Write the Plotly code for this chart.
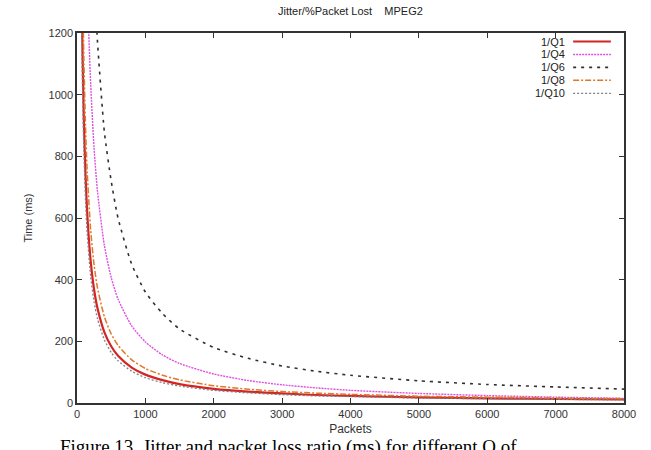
import plotly.graph_objects as go

# ---- data ----
q1_x = [70, 80, 100, 125, 150, 200, 250, 300, 400, 500, 600, 800, 1000, 1250, 1500, 2000, 2500, 3000, 3500, 4000, 5000, 6000, 7000, 8000]
q1_y = [1314, 1150, 920, 736, 613, 460, 368, 307, 230, 184, 153, 115, 92, 74, 61, 46, 37, 31, 26, 23, 18, 15, 13, 12]

q4_x = [165, 180, 200, 250, 300, 400, 500, 600, 800, 1000, 1250, 1500, 2000, 2500, 3000, 3500, 4000, 5000, 6000, 7000, 8000]
q4_y = [1255, 1150, 1034, 825, 686, 511, 407, 337, 250, 198, 156, 128, 94, 73, 59, 49, 41, 31, 24, 19, 15]

q6_x = [285, 300, 400, 500, 600, 800, 1000, 1250, 1500, 2000, 2500, 3000, 3500, 4000, 5000, 6000, 7000, 8000]
q6_y = [1230, 1170, 880, 720, 600, 450, 360, 290, 240, 180, 145, 120, 103, 90, 72, 60, 52, 45]

q8_x = [90, 100, 125, 150, 200, 250, 300, 400, 500, 600, 800, 1000, 1250, 1500, 2000, 2500, 3000, 3500, 4000, 5000, 6000, 7000, 8000]
q8_y = [1244, 1120, 896, 747, 560, 448, 373, 280, 224, 187, 140, 112, 90, 75, 56, 45, 37, 32, 28, 22, 19, 16, 14]

q10_x = [65, 80, 100, 125, 150, 200, 250, 300, 400, 500, 600, 800, 1000, 1250, 1500, 2000, 2500, 3000, 3500, 4000, 5000, 6000, 7000, 8000]
q10_y = [1262, 1025, 820, 656, 547, 410, 328, 273, 205, 164, 137, 103, 82, 66, 55, 41, 33, 27, 23, 21, 16, 14, 12, 10]

x_ticks = [0, 1000, 2000, 3000, 4000, 5000, 6000, 7000, 8000]
y_ticks = [0, 200, 400, 600, 800, 1000, 1200]

series = [
    ("1/Q1", q1_x, q1_y, "#d42424", 2.2, "solid"),
    ("1/Q4", q4_x, q4_y, "#e050e0", 1.4, "2px,1px"),
    ("1/Q6", q6_x, q6_y, "#303030", 1.6, "3px,5px"),
    ("1/Q8", q8_x, q8_y, "#e07828", 1.5, "6px,2px,2px,2px"),
    ("1/Q10", q10_x, q10_y, "#808080", 1.3, "2px,2px"),
]

fig = go.Figure()
for name, xs, ys, col, w, dash in series:
    fig.add_trace(go.Scatter(x=xs, y=ys, mode="lines", name=name,
                             line=dict(color=col, width=w, dash=dash, shape="spline", smoothing=0.6),
                             showlegend=False, cliponaxis=True))

# gnuplot-style legend: text on left, sample line on right
row_y = [0.977, 0.942, 0.907, 0.872, 0.837]
for (name, xs, ys, col, w, dash), ry in zip(series, row_y):
    fig.add_annotation(x=0.896, y=ry, xref="paper", yref="paper", text=name,
                       showarrow=False, xanchor="right", yanchor="middle",
                       font=dict(family="Liberation Sans, Arial", size=11, color="#222"))
    fig.add_shape(type="line", xref="paper", yref="paper", x0=0.907, x1=0.976, y0=ry, y1=ry,
                  line=dict(color=col, width=w, dash=dash))

fig.add_annotation(x=0.5, y=1.0, xref="paper", yref="paper", yshift=22,
                   text="Jitter/%Packet Lost    MPEG2", showarrow=False,
                   xanchor="center", yanchor="middle",
                   font=dict(family="Liberation Sans, Arial", size=11, color="#222"))

fig.add_annotation(x=-0.035, y=-0.085, xref="paper", yref="paper",
                   text="Figure 13. Jitter and packet loss ratio (ms) for different Q of",
                   showarrow=False, xanchor="left", yanchor="top",
                   font=dict(family="Liberation Serif, Times New Roman", size=19, color="#000"))

axis_common = dict(showline=True, linecolor="#333", linewidth=1.5, mirror="ticks",
                   ticks="inside", ticklen=5, tickwidth=1.3, tickcolor="#333",
                   showgrid=False, zeroline=False,
                   tickfont=dict(family="Liberation Sans, Arial", size=11, color="#333"))

fig.update_xaxes(range=[0, 8000], tickvals=x_ticks, ticktext=[str(v) for v in x_ticks],
                 title=dict(text="Packets", standoff=6,
                            font=dict(family="Liberation Sans, Arial", size=12, color="#333")),
                 **axis_common)
fig.update_yaxes(range=[0, 1200], tickvals=y_ticks, ticktext=[str(v) for v in y_ticks],
                 title=dict(text="Time (ms)", standoff=14,
                            font=dict(family="Liberation Sans, Arial", size=11, color="#333")),
                 **axis_common)

fig.update_layout(width=651, height=450, margin=dict(l=77, r=27, t=33, b=47),
                  plot_bgcolor="white", paper_bgcolor="white", showlegend=False)

fig.write_html("out.html")
